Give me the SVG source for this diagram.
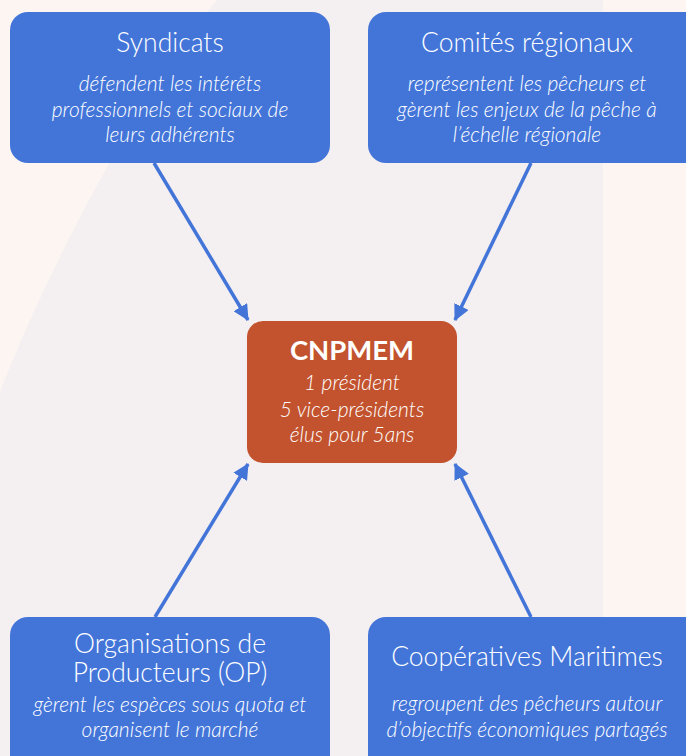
<svg xmlns="http://www.w3.org/2000/svg" width="686" height="756" viewBox="0 0 686 756">
  <style>
    .box { fill: #4375d9; }
    .core { fill: #c2532e; }
    .title { font-family: Lato, "Open Sans", sans-serif; font-weight: 300; font-size: 26.5px; fill: #ffffff; text-anchor: middle; }
    .desc { font-family: Lato, "Open Sans", sans-serif; font-style: italic; font-weight: 300; font-size: 21px; fill: #ffffff; text-anchor: middle; }
    .ctitle { font-family: Lato, "Open Sans", sans-serif; font-weight: 700; font-size: 27.5px; fill: #ffffff; text-anchor: middle; }
    .link { stroke: #4375d9; stroke-width: 3.5; fill: none; marker-end: url(#arrow); }
  </style>
  <defs>
    <marker id="arrow" markerUnits="userSpaceOnUse" markerWidth="16" markerHeight="16" viewBox="0 0 16 16" refX="15" refY="8" orient="auto">
      <path d="M0,0 L16,8 L0,16 Z" fill="#4375d9"/>
    </marker>
  </defs>
  <rect width="686" height="756" fill="#fdf5f2"/>
  <path d="M217,0 L603,0 L603,756 L0,756 L0,392 C55,250 150,80 217,0 Z" fill="#f4eff0"/>

  <g id="connectors">
    <line class="link" x1="154" y1="163" x2="248" y2="320"/>
    <line class="link" x1="531" y1="163" x2="455" y2="320"/>
    <line class="link" x1="155" y1="617" x2="248" y2="464"/>
    <line class="link" x1="531" y1="617" x2="455" y2="464"/>
  </g>

  <g id="syndicats">
    <rect class="box" x="10" y="12" width="320" height="151" rx="18"/>
    <text class="title" x="170" y="52">Syndicats</text>
    <text class="desc" x="170" y="91">défendent les intérêts</text>
    <text class="desc" x="170" y="117">professionnels et sociaux de</text>
    <text class="desc" x="170" y="142">leurs adhérents</text>
  </g>

  <g id="comites">
    <rect class="box" x="368" y="12" width="336" height="151" rx="18"/>
    <text class="title" x="527" y="52">Comités régionaux</text>
    <text class="desc" x="527" y="91">représentent les pêcheurs et</text>
    <text class="desc" x="527" y="117">gèrent les enjeux de la pêche à</text>
    <text class="desc" x="527" y="142">l’échelle régionale</text>
  </g>

  <g id="cnpmem">
    <rect class="core" x="247" y="321" width="210" height="142" rx="16"/>
    <text class="ctitle" x="352" y="360">CNPMEM</text>
    <text class="desc" x="352" y="390">1 président</text>
    <text class="desc" x="352" y="417">5 vice-présidents</text>
    <text class="desc" x="352" y="442">élus pour 5ans</text>
  </g>

  <g id="op">
    <rect class="box" x="10" y="617" width="320" height="160" rx="18"/>
    <text class="title" x="170" y="653">Organisations de</text>
    <text class="title" x="170" y="682">Producteurs (OP)</text>
    <text class="desc" x="170" y="712">gèrent les espèces sous quota et</text>
    <text class="desc" x="170" y="737">organisent le marché</text>
  </g>

  <g id="cooperatives">
    <rect class="box" x="368" y="617" width="336" height="160" rx="18"/>
    <text class="title" x="527" y="666">Coopératives Maritimes</text>
    <text class="desc" x="527" y="711">regroupent des pêcheurs autour</text>
    <text class="desc" x="527" y="737">d’objectifs économiques partagés</text>
  </g>
</svg>
